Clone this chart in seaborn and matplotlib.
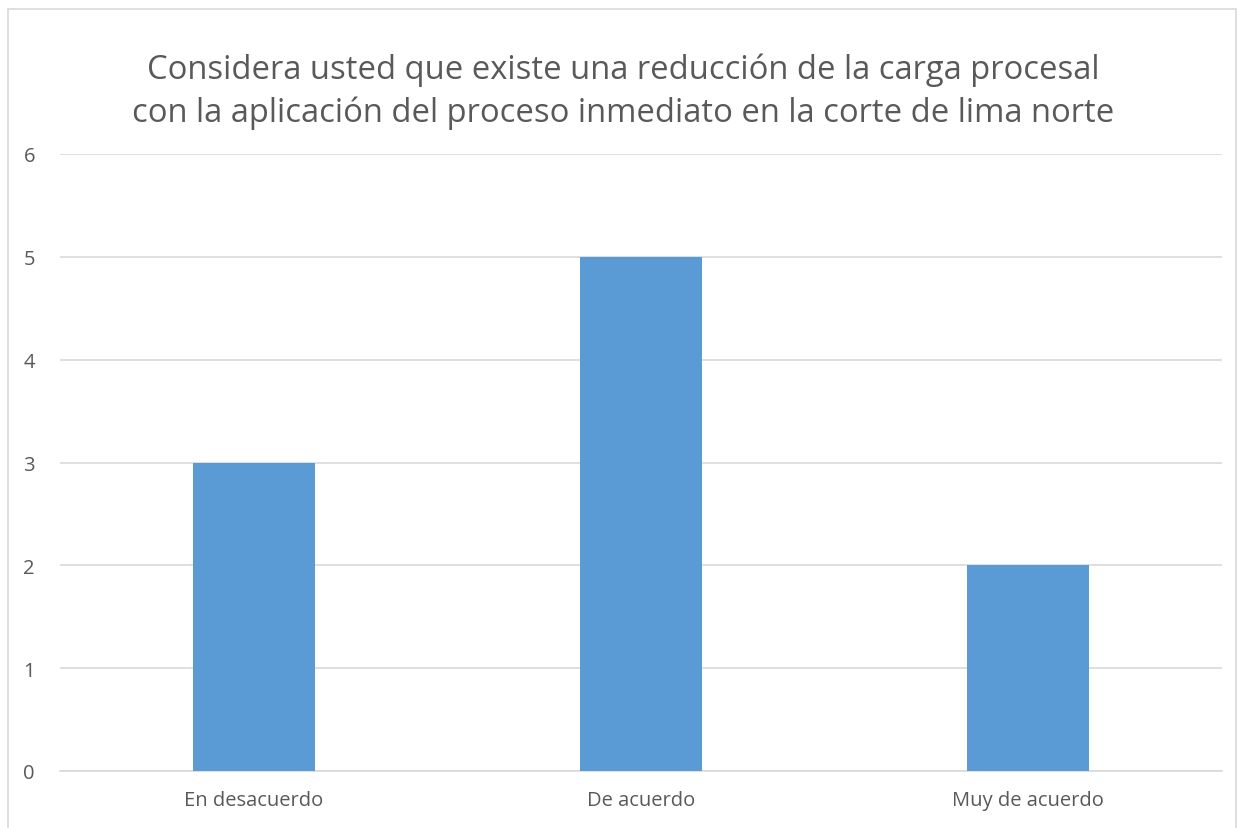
import matplotlib
matplotlib.use("Agg")
import matplotlib.pyplot as plt
import seaborn as sns
import pandas as pd
from matplotlib.patches import Rectangle

# Chart values
categories = ["En desacuerdo", "De acuerdo", "Muy de acuerdo"]
counts = [3, 5, 2]
y_ticks = [0, 1, 2, 3, 4, 5, 6]
title = ("Considera usted que existe una reducción de la carga procesal\n"
         "con la aplicación del proceso inmediato en la corte de lima norte")

df = pd.DataFrame({"Respuesta": categories, "Cantidad": counts})

sns.set_theme(style="white")
plt.rcParams['font.family'] = ['Open Sans', 'DejaVu Sans']

text_color = "#595959"
grid_color = "#D9D9D9"
bar_color = "#5B9BD5"

fig = plt.figure(figsize=(12.39, 8.29), dpi=100)
ax = fig.add_axes([60 / 1239, 57 / 829, 1162 / 1239, 617 / 829])

sns.barplot(x="Respuesta", y="Cantidad", data=df, color=bar_color,
            saturation=1, width=0.315, linewidth=0, ax=ax, zorder=3)

ax.set_xlim(-0.5, 2.5)
ax.set_ylim(0, 6)
ax.set_yticks(y_ticks)
ax.yaxis.grid(True, color=grid_color, linewidth=1.2, zorder=0)
ax.set_axisbelow(True)
for side in ["top", "right", "left"]:
    ax.spines[side].set_visible(False)
ax.spines["bottom"].set_color(grid_color)
ax.spines["bottom"].set_linewidth(1.2)
ax.tick_params(axis="both", length=0, colors=text_color, labelsize=14.5)
ax.tick_params(axis="y", pad=18)
ax.tick_params(axis="x", pad=14)
ax.set_xlabel("")
ax.set_ylabel("")

fig.text(0.503, 1 - 92 / 829, title, ha="center", va="center",
         fontsize=23.6, color=text_color, linespacing=1.38)

# chart border
fig.patches.append(Rectangle((8 / 1239, -0.01), 1228 / 1239, 1 - 10 / 829 + 0.01,
                             transform=fig.transFigure, fill=False,
                             edgecolor=grid_color, linewidth=1.2))

fig.savefig("out.png", dpi=100)
